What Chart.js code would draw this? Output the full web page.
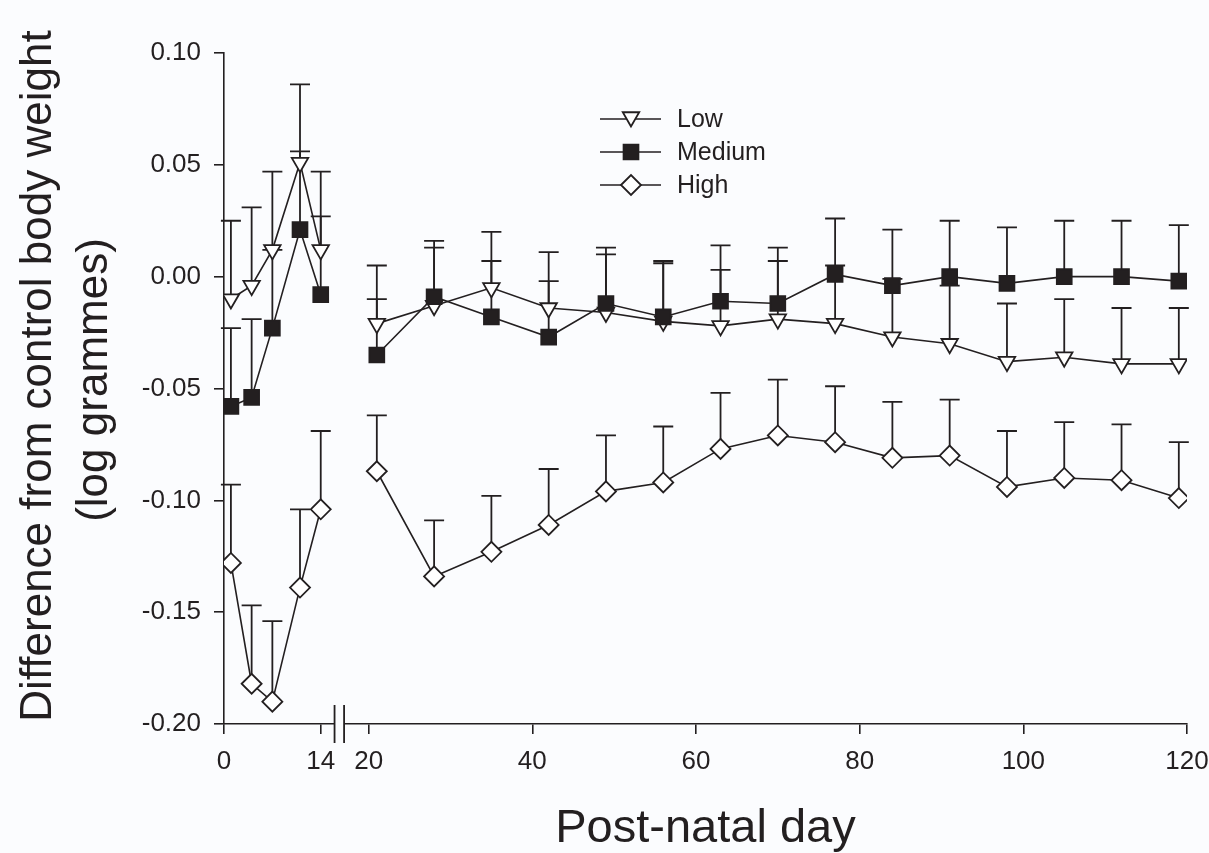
<!DOCTYPE html>
<html>
<head>
<meta charset="utf-8">
<script src="https://cdn.jsdelivr.net/npm/chart.js@4.4.1/dist/chart.umd.min.js"></script>
<style>
  html, body { margin: 0; padding: 0; background: #fbfcfe; }
  #wrap { width: 1209px; height: 853px; position: relative; }
</style>
</head>
<body>
<div id="wrap"><canvas id="weightChart"></canvas></div>
<script>
// post-natal days sampled
const days = [1, 4, 7, 11, 14, 21, 28, 35, 42, 49, 56, 63, 70, 77, 84, 91, 98, 105, 112, 119];

// mean difference from control (log g) and upper error bar length
const lowMean = [-0.010, -0.004, 0.012, 0.051, 0.012, -0.021, -0.013, -0.005, -0.014, -0.016,
                 -0.020, -0.022, -0.019, -0.021, -0.027, -0.030, -0.038, -0.036, -0.039, -0.039];
const lowErr = [0.035, 0.035, 0.035, 0.035, 0.035, 0.026, 0.026, 0.025, 0.025, 0.026,
                0.026, 0.025, 0.026, 0.026, 0.026, 0.026, 0.026, 0.026, 0.025, 0.025];

const mediumMean = [-0.058, -0.054, -0.023, 0.021, -0.008, -0.035, -0.009, -0.018, -0.027, -0.012,
                    -0.018, -0.011, -0.012, 0.001, -0.004, 0.000, -0.003, 0.000, 0.000, -0.002];
const mediumErr = [0.035, 0.035, 0.035, 0.035, 0.035, 0.025, 0.025, 0.025, 0.025, 0.025,
                   0.025, 0.025, 0.025, 0.025, 0.025, 0.025, 0.025, 0.025, 0.025, 0.025];

const highMean = [-0.128, -0.182, -0.190, -0.139, -0.104, -0.087, -0.134, -0.123, -0.111, -0.096,
                  -0.092, -0.077, -0.071, -0.074, -0.081, -0.080, -0.094, -0.090, -0.091, -0.099];
const highErr = [0.035, 0.035, 0.036, 0.035, 0.035, 0.025, 0.025, 0.025, 0.025, 0.025,
                 0.025, 0.025, 0.025, 0.025, 0.025, 0.025, 0.025, 0.025, 0.025, 0.025];

const xTicks = [0, 14, 20, 40, 60, 80, 100, 120];
const yTicks = [-0.20, -0.15, -0.10, -0.05, 0.00, 0.05, 0.10];
const yTitle = ['Difference from control body weight', '(log grammes)'];

const INK = '#231f20';
const BG = '#fbfcfe';
const FONT = "'Liberation Sans', Arial, Helvetica, sans-serif";

// linear axis with a gap between two differently scaled pieces
class BrokenScale extends Chart.LinearScale {
    getPixelForValue(value) {
        const [b0, b1] = this.options.breakAt;
        const [f0, f1] = this.options.breakPos;
        const v = +value;
        let frac;
        if (v <= b0) {
            frac = f0 * (v - this.min) / (b0 - this.min);
        } else if (v >= b1) {
            frac = f1 + (1 - f1) * (v - b1) / (this.max - b1);
        } else {
            frac = f0 + (f1 - f0) * (v - b0) / (b1 - b0);
        }
        return this.left + frac * this.width;
    }
    getValueForPixel(pixel) {
        const [b0, b1] = this.options.breakAt;
        const [f0, f1] = this.options.breakPos;
        const frac = (pixel - this.left) / this.width;
        if (frac <= f0) return this.min + frac / f0 * (b0 - this.min);
        if (frac >= f1) return b1 + (frac - f1) / (1 - f1) * (this.max - b1);
        return b0 + (frac - f0) / (f1 - f0) * (b1 - b0);
    }
}
BrokenScale.id = 'broken';
BrokenScale.defaults = Object.assign({}, Chart.LinearScale.defaults);
Chart.register(BrokenScale);

const canvasBg = {
    id: 'canvasBg',
    beforeDraw(chart) {
        const ctx = chart.ctx;
        ctx.save();
        ctx.fillStyle = BG;
        ctx.fillRect(0, 0, chart.width, chart.height);
        ctx.restore();
    }
};

const errorBars = {
    id: 'errorBars',
    beforeDatasetsDraw(chart) {
        const { ctx, scales: { x, y } } = chart;
        ctx.save();
        ctx.strokeStyle = INK;
        ctx.lineWidth = 1.8;
        chart.data.datasets.forEach(ds => {
            ds.data.forEach((p, i) => {
                const px = x.getPixelForValue(p.x);
                const py = y.getPixelForValue(p.y);
                const top = y.getPixelForValue(p.y + ds.errors[i]);
                ctx.beginPath();
                ctx.moveTo(px, py);
                ctx.lineTo(px, top);
                ctx.moveTo(px - 10, top);
                ctx.lineTo(px + 10, top);
                ctx.stroke();
            });
        });
        ctx.restore();
    }
};

const axisBreak = {
    id: 'axisBreak',
    afterDraw(chart) {
        const { ctx, scales: { x } } = chart;
        const [b0, b1] = x.options.breakAt;
        const p0 = x.getPixelForValue(b0);
        const p1 = x.getPixelForValue(b1);
        const yb = x.top;
        ctx.save();
        ctx.fillStyle = BG;
        ctx.fillRect(p0, yb - 2, p1 - p0, 4);
        ctx.strokeStyle = INK;
        ctx.lineWidth = 1.8;
        ctx.beginPath();
        ctx.moveTo(p0, yb - 19);
        ctx.lineTo(p0, yb + 19);
        ctx.moveTo(p1, yb - 19);
        ctx.lineTo(p1, yb + 19);
        ctx.stroke();
        ctx.restore();
    }
};

// y title drawn by hand so it can sit a little above the plot centre
const yAxisTitle = {
    id: 'yAxisTitle',
    afterDraw(chart) {
        const ctx = chart.ctx;
        ctx.save();
        ctx.fillStyle = INK;
        ctx.font = '44px ' + FONT;
        ctx.textAlign = 'center';
        ctx.textBaseline = 'middle';
        ctx.translate(0, 376);
        ctx.rotate(-Math.PI / 2);
        ctx.fillText(yTitle[0], 0, 39);
        ctx.fillText(yTitle[1], -4, 95);
        ctx.restore();
    }
};

const lineLegend = {
    id: 'lineLegend',
    afterDraw(chart) {
        const ctx = chart.ctx;
        const rows = [119, 152, 185];
        ctx.save();
        chart.data.datasets.forEach((ds, i) => {
            const yy = rows[i];
            ctx.strokeStyle = INK;
            ctx.lineWidth = 1.5;
            ctx.beginPath();
            ctx.moveTo(600, yy);
            ctx.lineTo(661, yy);
            ctx.stroke();
            ctx.fillStyle = ds.pointBackgroundColor;
            ctx.strokeStyle = INK;
            ctx.lineWidth = 1.8;
            Chart.helpers.drawPoint(ctx, {
                pointStyle: ds.pointStyle,
                radius: ds.pointRadius,
                rotation: ds.pointRotation || 0,
                borderWidth: 1.8
            }, 631, yy + (ds.pointStyle === 'triangle' ? -2 : 0));
            ctx.fillStyle = INK;
            ctx.font = '25px ' + FONT;
            ctx.textAlign = 'left';
            ctx.textBaseline = 'middle';
            ctx.fillText(ds.label, 677, yy + 1);
        });
        ctx.restore();
    }
};

const toPoints = (means) => days.map((d, i) => ({ x: d, y: means[i] }));
const gapSegment = {
    borderColor: c => (c.p0.parsed.x < 16 && c.p1.parsed.x > 17) ? 'rgba(0,0,0,0)' : INK
};

const datasets = [
    {
        label: 'Low',
        data: toPoints(lowMean),
        errors: lowErr,
        pointStyle: 'triangle',
        pointRotation: 180,
        pointRadius: 9.5,
        pointBackgroundColor: '#ffffff',
        order: 1
    },
    {
        label: 'Medium',
        data: toPoints(mediumMean),
        errors: mediumErr,
        pointStyle: 'rect',
        pointRadius: 10.5,
        pointBackgroundColor: INK,
        order: 0
    },
    {
        label: 'High',
        data: toPoints(highMean),
        errors: highErr,
        pointStyle: 'rectRot',
        pointRadius: 10,
        pointBackgroundColor: '#ffffff',
        order: 2
    }
].map(ds => Object.assign({
    borderColor: INK,
    borderWidth: 1.6,
    pointBorderColor: INK,
    pointBorderWidth: 1.8,
    showLine: true,
    fill: false,
    tension: 0,
    segment: gapSegment
}, ds));

new Chart(document.getElementById('weightChart'), {
    type: 'scatter',
    data: { datasets: datasets },
    options: {
        responsive: true,
        maintainAspectRatio: false,
        animation: false,
        events: [],
        layout: { padding: { top: 53, right: 0, left: 0, bottom: 0 } },
        plugins: {
            legend: { display: false },
            tooltip: { enabled: false }
        },
        scales: {
            x: {
                type: 'broken',
                min: 0,
                max: 120,
                breakAt: [16, 17],
                breakPos: [0.1148, 0.1247],
                afterBuildTicks: scale => { scale.ticks = xTicks.map(v => ({ value: v })); },
                afterFit: scale => {
                    scale.height = 129;
                    scale.paddingRight = 22;
                    scale.paddingLeft = 0;
                },
                ticks: {
                    callback: v => String(v),
                    color: INK,
                    font: { family: FONT, size: 26 },
                    padding: 12,
                    maxRotation: 0,
                    autoSkip: false
                },
                grid: { drawOnChartArea: false, tickLength: 10, color: INK, lineWidth: 1.6 },
                border: { color: INK, width: 1.6 },
                title: {
                    display: true,
                    text: 'Post-natal day',
                    color: INK,
                    font: { family: FONT, size: 47 },
                    padding: { top: 0, bottom: -4 }
                }
            },
            y: {
                min: -0.20,
                max: 0.10,
                afterBuildTicks: scale => { scale.ticks = yTicks.map(v => ({ value: v })); },
                afterFit: scale => { scale.width = 224; },
                ticks: {
                    callback: v => (Math.abs(v) < 1e-9 ? 0 : v).toFixed(2),
                    color: INK,
                    font: { family: FONT, size: 26 },
                    padding: 13
                },
                grid: { drawOnChartArea: false, tickLength: 10, color: INK, lineWidth: 1.6 },
                border: { color: INK, width: 1.6 }
            }
        }
    },
    plugins: [canvasBg, errorBars, axisBreak, yAxisTitle, lineLegend]
});
</script>
</body>
</html>
